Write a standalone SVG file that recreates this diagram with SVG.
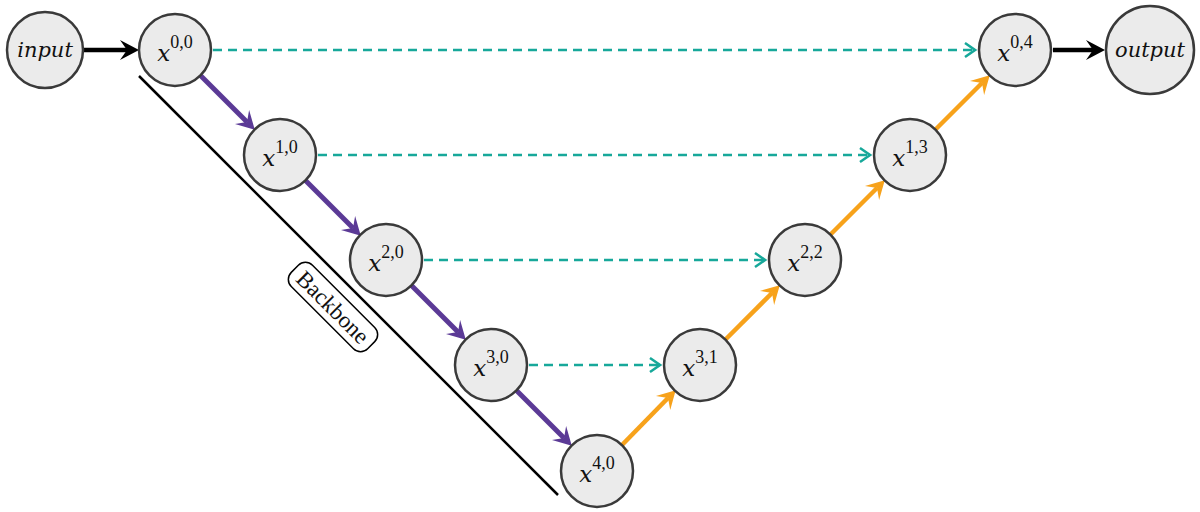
<svg xmlns="http://www.w3.org/2000/svg" width="1200" height="512" viewBox="0 0 1200 512">
<style>
.n{fill:#ebebeb;stroke:#3a3a3a;stroke-width:2.5}
.t{font-family:"Liberation Serif","Times New Roman",serif;font-size:24px;fill:#111;text-anchor:middle}
.it{font-family:"DejaVu Serif",serif;font-style:italic;font-size:21px}
.sup{font-family:"Liberation Serif","Times New Roman",serif;font-size:18px;font-style:normal}
.blk{stroke:#000;stroke-width:4.5;fill:none;marker-end:url(#hb)}
.pur{stroke:#5b3a96;stroke-width:5;fill:none;marker-end:url(#hp)}
.org{stroke:#f7a21b;stroke-width:4.5;fill:none;marker-end:url(#ho)}
.dsh{stroke:#17a89a;stroke-width:2.5;fill:none;stroke-dasharray:9 6;marker-end:url(#hd)}
</style>
<defs>
<marker id="hb" markerUnits="userSpaceOnUse" viewBox="-10 -11 26 22" markerWidth="26" markerHeight="22" refX="0" refY="0" orient="auto"><path d="M12,0 L-7,-10 L0,0 L-7,10 Z" fill="#000"/></marker>
<marker id="hp" markerUnits="userSpaceOnUse" viewBox="-10 -11 26 22" markerWidth="26" markerHeight="22" refX="0" refY="0" orient="auto"><path d="M11,0 L-7,-10 L0,0 L-7,10 Z" fill="#5b3a96"/></marker>
<marker id="ho" markerUnits="userSpaceOnUse" viewBox="-10 -11 26 22" markerWidth="26" markerHeight="22" refX="0" refY="0" orient="auto"><path d="M11,0 L-7,-10 L0,0 L-7,10 Z" fill="#f7a21b"/></marker>
<marker id="hd" markerUnits="userSpaceOnUse" viewBox="-13 -9 15 18" markerWidth="15" markerHeight="18" refX="0" refY="0" orient="auto"><path d="M-10,-7 L0,0 L-10,7" fill="none" stroke="#17a89a" stroke-width="2.5" stroke-linejoin="miter"/></marker>
</defs>

<g id="connectors">
<line class="blk" x1="84" y1="50" x2="127" y2="50"/>
<line class="blk" x1="1053" y1="50" x2="1093" y2="50"/>
<line class="dsh" x1="213" y1="50" x2="975" y2="50"/>
<line class="dsh" x1="318" y1="155" x2="870" y2="155"/>
<line class="dsh" x1="424" y1="260" x2="765" y2="260"/>
<line class="dsh" x1="529" y1="365" x2="660" y2="365"/>
<line class="pur" x1="200" y1="75" x2="247" y2="122"/>
<line class="pur" x1="305" y1="180" x2="353" y2="228"/>
<line class="pur" x1="411" y1="285" x2="458" y2="332"/>
<line class="pur" x1="516" y1="390" x2="564" y2="438"/>
<line class="org" x1="622" y1="445" x2="668" y2="398"/>
<line class="org" x1="725" y1="340" x2="772" y2="293"/>
<line class="org" x1="830" y1="235" x2="877" y2="188"/>
<line class="org" x1="935" y1="130" x2="982" y2="83"/>
</g>

<g id="backbone">
<line x1="139" y1="76" x2="558" y2="495" stroke="#000" stroke-width="2.5"/>
<g transform="translate(333,307) rotate(45)">
<rect x="-54" y="-15" width="108" height="30" rx="10" fill="#fff" stroke="#000" stroke-width="1.5"/>
<text class="t" x="0" y="8" style="font-size:23px">Backbone</text>
</g>
</g>

<g id="input"><circle class="n" cx="45" cy="50" r="38"/><text class="t it" x="45" y="57">input</text></g>
<g id="x00"><circle class="n" cx="175" cy="50" r="36"/><text class="t" x="175" y="61"><tspan class="it" style="font-size:23px">x</tspan><tspan class="sup" dy="-13">0,0</tspan></text></g>
<g id="x10"><circle class="n" cx="280" cy="155" r="36"/><text class="t" x="280" y="166"><tspan class="it" style="font-size:23px">x</tspan><tspan class="sup" dy="-13">1,0</tspan></text></g>
<g id="x20"><circle class="n" cx="386" cy="260" r="36"/><text class="t" x="386" y="271"><tspan class="it" style="font-size:23px">x</tspan><tspan class="sup" dy="-13">2,0</tspan></text></g>
<g id="x30"><circle class="n" cx="491" cy="365" r="36"/><text class="t" x="491" y="376"><tspan class="it" style="font-size:23px">x</tspan><tspan class="sup" dy="-13">3,0</tspan></text></g>
<g id="x40"><circle class="n" cx="597" cy="471" r="36"/><text class="t" x="597" y="482"><tspan class="it" style="font-size:23px">x</tspan><tspan class="sup" dy="-13">4,0</tspan></text></g>
<g id="x31"><circle class="n" cx="700" cy="365" r="36"/><text class="t" x="700" y="376"><tspan class="it" style="font-size:23px">x</tspan><tspan class="sup" dy="-13">3,1</tspan></text></g>
<g id="x22"><circle class="n" cx="805" cy="260" r="36"/><text class="t" x="805" y="271"><tspan class="it" style="font-size:23px">x</tspan><tspan class="sup" dy="-13">2,2</tspan></text></g>
<g id="x13"><circle class="n" cx="910" cy="155" r="36"/><text class="t" x="910" y="166"><tspan class="it" style="font-size:23px">x</tspan><tspan class="sup" dy="-13">1,3</tspan></text></g>
<g id="x04"><circle class="n" cx="1015" cy="50" r="36"/><text class="t" x="1015" y="61"><tspan class="it" style="font-size:23px">x</tspan><tspan class="sup" dy="-13">0,4</tspan></text></g>
<g id="output"><circle class="n" cx="1150" cy="50" r="44"/><text class="t it" x="1150" y="57">output</text></g>
</svg>
